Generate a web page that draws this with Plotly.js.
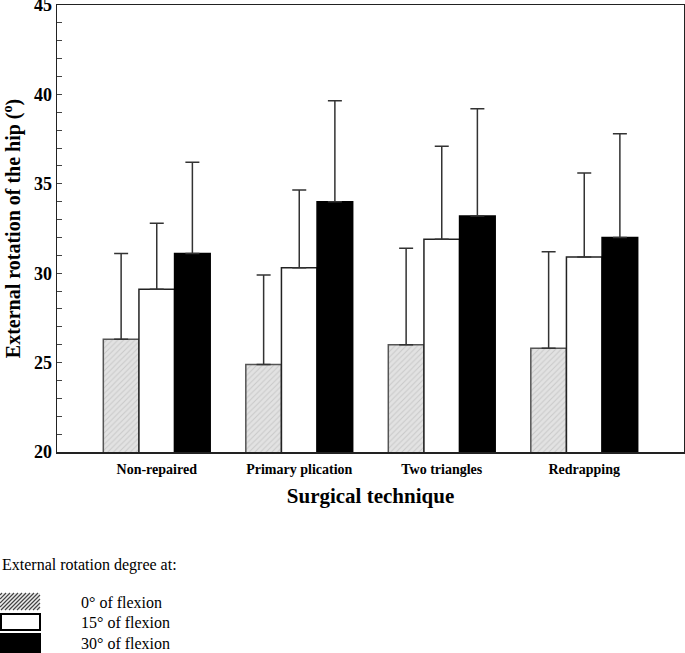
<!DOCTYPE html>
<html>
<head>
<meta charset="utf-8">
<script src="https://cdn.plot.ly/plotly-3.0.1.min.js"></script>
<style>html,body{margin:0;padding:0;background:#fff;}#chart{width:685px;height:653px;}</style>
</head>
<body>
<div id="chart"></div>
<script>
// ---- data ----
var categories = ["Non-repaired", "Primary plication", "Two triangles", "Redrapping"];
var seriesNames = ["0\u00b0 of flexion", "15\u00b0 of flexion", "30\u00b0 of flexion"];
var flex0 = [26.3, 24.9, 26.0, 25.8];
var flex0Err = [4.8, 5.0, 5.4, 5.4];
var flex15 = [29.1, 30.3, 31.9, 30.9];
var flex15Err = [3.7, 4.35, 5.2, 4.7];
var flex30 = [31.1, 34.0, 33.2, 32.0];
var flex30Err = [5.1, 5.65, 6.0, 5.8];
var yTicks = [20, 25, 30, 35, 40, 45];

// ---- layout geometry (pixels) ----
var W = 685, H = 653;
var mL = 57, mR = 1, mT = 5, mB = 201;
var pw = W - mL - mR, ph = H - mT - mB;
function px(x) { return (x - mL) / pw; }
function py(y) { return (H - mB - y) / ph; }

var serif = "Liberation Serif, Times New Roman, serif";

function zeros(n) { var a = []; for (var i = 0; i < n; i++) a.push(0); return a; }

var errStyle = { color: "#333", thickness: 1.5, width: 7 };

var traces = [
  {
    type: "bar", name: seriesNames[0], x: categories, y: flex0,
    marker: { color: "#e2e2e2", line: { color: "#555", width: 1.5 },
      pattern: { shape: "/", fgcolor: "#c9c9c9", bgcolor: "#e2e2e2", size: 4, solidity: 0.25 } },
    error_y: Object.assign({ type: "data", symmetric: false, array: flex0Err, arrayminus: zeros(4) }, errStyle)
  },
  {
    type: "bar", name: seriesNames[1], x: categories, y: flex15,
    marker: { color: "#ffffff", line: { color: "#222", width: 1.5 } },
    error_y: Object.assign({ type: "data", symmetric: false, array: flex15Err, arrayminus: zeros(4) }, errStyle)
  },
  {
    type: "bar", name: seriesNames[2], x: categories, y: flex30,
    marker: { color: "#000000", line: { color: "#000", width: 1.5 } },
    error_y: Object.assign({ type: "data", symmetric: false, array: flex30Err, arrayminus: zeros(4) }, errStyle)
  }
];

// legend drawn beneath the chart
var shapes = [];
var annotations = [];

// hatched swatch
var hx0 = 0, hx1 = 40, hy0 = 593, hy1 = 610;
var path = "";
for (var c = hx0 + hy0 + 2; c < hx1 + hy1; c += 4) {
  var xa = Math.max(hx0, c - hy1), xb = Math.min(hx1, c - hy0);
  if (xb <= xa) continue;
  path += "M" + px(xa) + "," + py(c - xa) + " L" + px(xb) + "," + py(c - xb) + " ";
}
shapes.push({ type: "rect", xref: "paper", yref: "paper", x0: px(hx0), x1: px(hx1), y0: py(hy1), y1: py(hy0),
  fillcolor: "#eeeeee", line: { width: 0 } });
shapes.push({ type: "path", xref: "paper", yref: "paper", path: path, line: { color: "#444", width: 1.2 } });
// white swatch
shapes.push({ type: "rect", xref: "paper", yref: "paper", x0: px(1), x1: px(40), y0: py(630), y1: py(614),
  fillcolor: "#fff", line: { color: "#000", width: 2 } });
// black swatch
shapes.push({ type: "rect", xref: "paper", yref: "paper", x0: px(0), x1: px(41), y0: py(653), y1: py(633),
  fillcolor: "#000", line: { width: 0 } });

annotations.push({ xref: "paper", yref: "paper", x: px(0), y: py(565), xanchor: "left", yanchor: "middle",
  text: "External rotation degree at:", showarrow: false, font: { family: serif, size: 16, color: "#000" } });
var ly = [602, 622, 643];
for (var i = 0; i < 3; i++) {
  annotations.push({ xref: "paper", yref: "paper", x: px(79), y: py(ly[i]), xanchor: "left", yanchor: "middle",
    text: seriesNames[i], showarrow: false, font: { family: serif, size: 16, color: "#000" } });
}

var layout = {
  width: W, height: H,
  margin: { l: mL, r: mR, t: mT, b: mB, pad: 0 },
  paper_bgcolor: "#fff", plot_bgcolor: "#fff",
  showlegend: false,
  barmode: "group", bargap: 0.25, bargroupgap: 0,
  font: { family: serif, color: "#000" },
  xaxis: {
    type: "category", range: [-0.7, 3.7],
    showline: true, linecolor: "#222", linewidth: 1.5, mirror: true,
    ticks: "", showgrid: false, zeroline: false, ticklabelstandoff: 4,
    tickfont: { family: serif, size: 14, color: "#000", weight: "bold" },
    title: { text: "<b>Surgical technique</b>", font: { family: serif, size: 21, color: "#000" }, standoff: 12 }
  },
  yaxis: {
    range: [20, 45], tickvals: yTicks, ticktext: yTicks.map(function (v) { return "<b>" + v + "</b>"; }),
    ticklabeloverflow: "allow",
    showline: true, linecolor: "#222", linewidth: 1.5, mirror: true,
    ticks: "inside", ticklen: 5, tickcolor: "#444", tickwidth: 1,
    minor: { dtick: 1, ticks: "inside", ticklen: 5, tickcolor: "#444", tickwidth: 1 },
    showgrid: false, zeroline: false,
    tickfont: { family: serif, size: 18, color: "#000" },
    title: { text: "<b>External rotation of the hip (<sup>o</sup>)</b>", font: { family: serif, size: 20, color: "#000" }, standoff: 8 }
  },
  shapes: shapes,
  annotations: annotations
};

Plotly.newPlot("chart", traces, layout, { displayModeBar: false, staticPlot: true });
</script>
</body>
</html>
